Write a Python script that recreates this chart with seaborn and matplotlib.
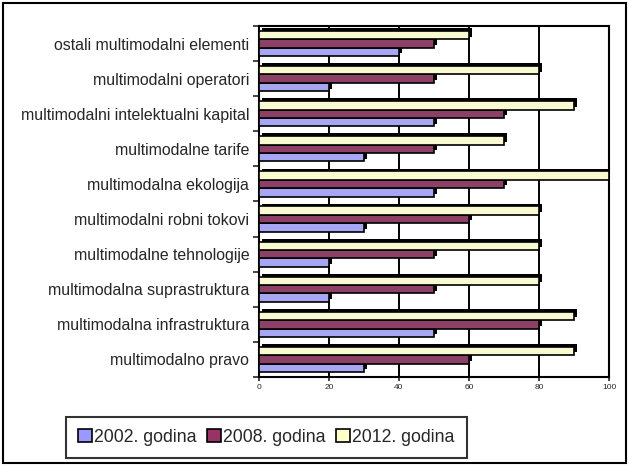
import matplotlib
matplotlib.use("Agg")
import matplotlib.pyplot as plt
import matplotlib.patheffects as pe
from matplotlib.patches import Rectangle
import seaborn as sns
import pandas as pd
import numpy as np

categories = [
    "ostali multimodalni elementi",
    "multimodalni operatori",
    "multimodalni intelektualni kapital",
    "multimodalne tarife",
    "multimodalna ekologija",
    "multimodalni robni tokovi",
    "multimodalne tehnologije",
    "multimodalna suprastruktura",
    "multimodalna infrastruktura",
    "multimodalno pravo",
]
v2002 = [40, 20, 50, 30, 50, 30, 20, 20, 50, 30]
v2008 = [50, 50, 70, 50, 70, 60, 50, 50, 80, 60]
v2012 = [60, 80, 90, 70, 100, 80, 80, 80, 90, 90]
series = ["2002. godina", "2008. godina", "2012. godina"]
colors = {"2002. godina": "#9999FF", "2008. godina": "#993366", "2012. godina": "#FFFFCC"}
xticks = [0, 20, 40, 60, 80, 100]

rows = []
for name, vals in zip(series, [v2002, v2008, v2012]):
    for c, v in zip(categories, vals):
        rows.append({"kategorija": c, "vrijednost": v, "godina": name})
df = pd.DataFrame(rows)

sns.set_style("white")
plt.rcParams["font.family"] = ["Liberation Sans", "DejaVu Sans"]

fig = plt.figure(figsize=(6.29, 4.66), dpi=100)
ax = fig.add_axes([259 / 629, 1 - 377 / 466, 350 / 629, 351 / 466])

hue_draw = series[::-1]
sns.barplot(data=df, y="kategorija", x="vrijednost", hue="godina",
            order=categories, hue_order=hue_draw,
            palette=colors, orient="h", width=0.72, ax=ax,
            edgecolor="black", linewidth=1.2, errorbar=None, legend=False)

n = len(categories)
for i, p in enumerate(ax.patches):
    p.set_path_effects([pe.SimplePatchShadow(offset=(2.0, 2.0), shadow_rgbFace="black", alpha=1.0),
                        pe.Normal()])
    p.set_zorder(5 - i // n)

ax.set_xlim(0, 100)
ax.set_xticks(xticks)
ax.set_xticklabels([str(t) for t in xticks], fontsize=6)
ax.set_xlabel("")
ax.set_ylabel("")
ax.grid(axis="x", color="black", linewidth=1.4, zorder=0)
ax.set_axisbelow(True)
ax.tick_params(axis="y", which="major", length=0, labelsize=11.4, pad=7)
ax.tick_params(axis="x", which="major", length=3, width=1.2, direction="out", pad=2, bottom=True)
ax.set_yticks(np.arange(len(categories) + 1) - 0.5, minor=True)
ax.tick_params(axis="y", which="minor", length=4, width=1.2, direction="out", left=True)
ax.set_ylim(len(categories) - 0.5, -0.5)
for s in ax.spines.values():
    s.set_color("black")
    s.set_linewidth(1.5)

handles = [Rectangle((0, 0), 1, 1, facecolor=colors[s], edgecolor="black", linewidth=1.2) for s in series]
leg = fig.legend(handles, series, loc="center", bbox_to_anchor=(266.5 / 629, 1 - 437.5 / 466),
                 ncol=3, fontsize=12.7, frameon=True, fancybox=False, handlelength=0.75,
                 handleheight=0.75, handletextpad=0.15, columnspacing=0.6, borderpad=0.7)
leg.get_frame().set_edgecolor("black")
leg.get_frame().set_linewidth(1.5)

fig.patches.append(Rectangle((3 / 629, 3 / 466), 1 - 6 / 629, 1 - 6 / 466, transform=fig.transFigure,
                             fill=False, edgecolor="black", linewidth=1.5))

fig.savefig("out.png", dpi=100)
